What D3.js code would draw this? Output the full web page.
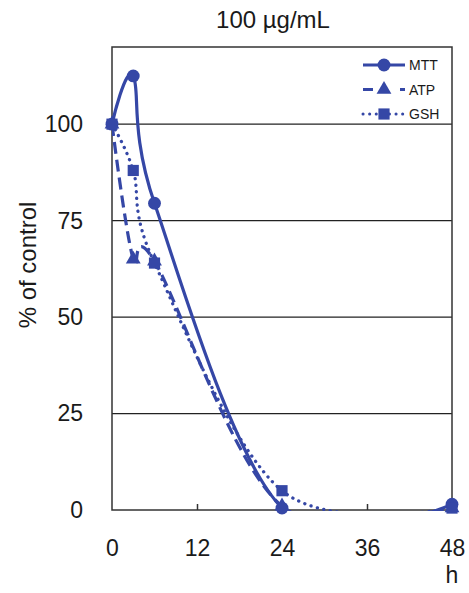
<!DOCTYPE html>
<html>
<head>
<meta charset="utf-8">
<script src="https://cdn.jsdelivr.net/npm/d3@7"></script>
<style>
  body { margin: 0; background: #fff; }
  text { font-family: "Liberation Sans", Arial, sans-serif; fill: #1a1a1a; }
</style>
</head>
<body>
<svg id="chart" width="469" height="593"></svg>
<script>
// time points (h) and % of control for each assay
var hours = [0, 3, 6, 24, 48];
var mtt = [100, 112.5, 79.5, 0.5, 1.5];
var atp = [100, 65, 64.5, 1, 0.5];
var gsh = [100, 88, 64, 5, 0.5];
var xTicks = [0, 12, 24, 36, 48];
var yTicks = [0, 25, 50, 75, 100];

var series = [
    {name: "MTT", values: mtt, dash: null, marker: "circle"},
    {name: "ATP", values: atp, dash: "12,6", marker: "triangle"},
    {name: "GSH", values: gsh, dash: "0.1,6.5", marker: "square"}
];

var blue = "#3547a6";

var svg = d3.select("#chart"),
    margin = {top: 47, left: 112, right: 17, bottom: 83},
    width = +svg.attr("width") - margin.left - margin.right,
    height = +svg.attr("height") - margin.top - margin.bottom;

var x = d3.scaleLinear().domain([0, 48]).range([0, width]);
var y = d3.scaleLinear().domain([0, 120]).range([height, 0]);

var g = svg.append("g").attr("transform", "translate(" + margin.left + "," + margin.top + ")");

svg.append("defs").append("clipPath").attr("id", "plotClip")
    .append("rect").attr("width", width).attr("height", height + 1);

// gridlines
g.append("g").selectAll("line").data(yTicks.filter(function (d) { return d > 0; }))
    .enter().append("line")
    .attr("x1", 0).attr("x2", width)
    .attr("y1", function (d) { return y(d); }).attr("y2", function (d) { return y(d); })
    .attr("stroke", "#222").attr("stroke-width", 1.2);

// plot frame
g.append("rect").attr("width", width).attr("height", height)
    .attr("fill", "none").attr("stroke", "#333").attr("stroke-width", 1.5);

// x axis: inward ticks
var xAxis = g.append("g").attr("transform", "translate(0," + height + ")")
    .call(d3.axisBottom(x).tickValues(xTicks).tickSize(-6).tickPadding(30));
xAxis.select(".domain").remove();
xAxis.selectAll("line").attr("stroke", "#333").attr("stroke-width", 1.5);
xAxis.selectAll("text").attr("font-size", 23).attr("fill", "#1a1a1a")
    .attr("font-family", "Liberation Sans, Arial, sans-serif");
xAxis.selectAll(".tick").filter(function (d) { return d === 0 || d === 48; }).select("line").remove();

var yAxis = g.append("g")
    .call(d3.axisLeft(y).tickValues(yTicks).tickSize(0).tickPadding(29));
yAxis.select(".domain").remove();
yAxis.selectAll("text").attr("font-size", 23).attr("fill", "#1a1a1a")
    .attr("font-family", "Liberation Sans, Arial, sans-serif");

svg.append("text").attr("x", 273).attr("y", 28).attr("text-anchor", "middle")
    .attr("font-size", 24).text("100 µg/mL");

svg.append("text").attr("transform", "translate(36,265) rotate(-90)")
    .attr("text-anchor", "middle").attr("font-size", 24).text("% of control");

svg.append("text").attr("x", margin.left + width).attr("y", 583)
    .attr("text-anchor", "middle").attr("font-size", 23).text("h");

// curves
var line = d3.line()
    .x(function (d, i) { return x(hours[i]); })
    .y(function (d) { return y(d); })
    .curve(d3.curveCardinal.tension(0));

var lines = g.append("g").attr("clip-path", "url(#plotClip)");
series.forEach(function (s) {
    lines.append("path").datum(s.values)
        .attr("d", line)
        .attr("fill", "none")
        .attr("stroke", blue)
        .attr("stroke-width", s.marker === "square" ? 3.3 : 3.2)
        .attr("stroke-linecap", s.marker === "square" ? "round" : "butt")
        .attr("stroke-dasharray", s.dash);
});

var symbols = {
    circle: d3.symbol().type(d3.symbolCircle).size(130),
    triangle: d3.symbol().type(d3.symbolTriangle).size(95),
    square: d3.symbol().type(d3.symbolSquare).size(125)
};

// markers
series.forEach(function (s) {
    g.append("g").selectAll("path").data(s.values).enter().append("path")
        .attr("d", symbols[s.marker])
        .attr("transform", function (d, i) { return "translate(" + x(hours[i]) + "," + y(d) + ")"; })
        .attr("fill", blue);
});

// legend
var legend = svg.append("g").attr("transform", "translate(363,65)");
series.forEach(function (s, i) {
    var row = legend.append("g").attr("transform", "translate(0," + i * 24.5 + ")");
    row.append("line").attr("x1", 0).attr("x2", 42).attr("y1", 0).attr("y2", 0)
        .attr("stroke", blue).attr("stroke-width", 3)
        .attr("stroke-dasharray", s.name === "ATP" ? "10,27,5" : s.dash)
        .attr("stroke-linecap", s.marker === "square" ? "round" : "butt");
    row.append("path").attr("d", symbols[s.marker]).attr("transform", "translate(21,0)").attr("fill", blue);
    row.append("text").attr("x", 46).attr("y", 5).attr("font-size", 14).text(s.name);
});
</script>
</body>
</html>
